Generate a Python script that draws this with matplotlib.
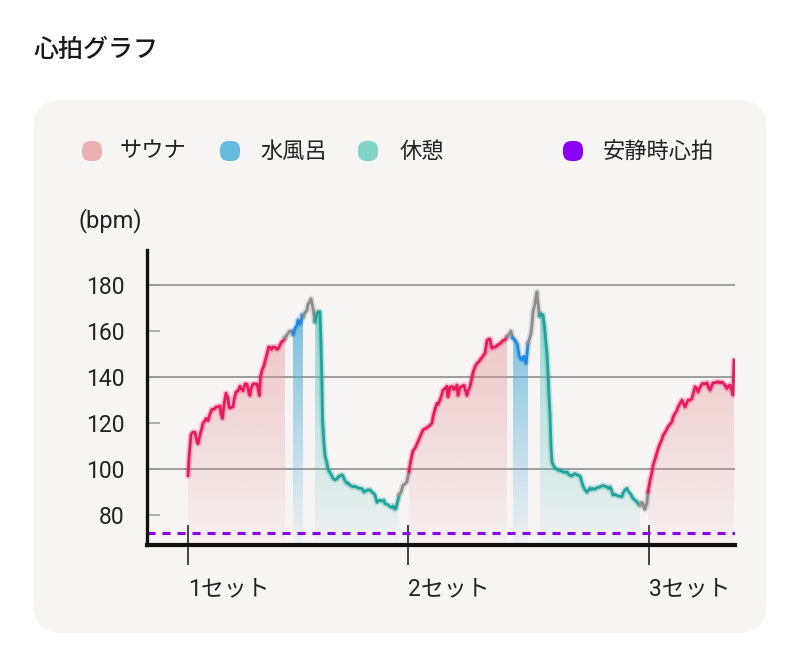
import numpy as np
import matplotlib
matplotlib.use("Agg")
import matplotlib.pyplot as plt
import matplotlib.colors as mcolors
import matplotlib.patheffects as pe
from matplotlib.patches import FancyBboxPatch
from matplotlib.transforms import IdentityTransform

plt.rcParams['font.family'] = ['Roboto', 'Noto Sans CJK JP', 'DejaVu Sans']
plt.rcParams['lines.scale_dashes'] = False

# ---------------- data (time in minutes, heart rate in bpm) ----------------
title = "心拍グラフ"
unit_label = "(bpm)"
legend_labels = ["サウナ", "水風呂", "休憩", "安静時心拍"]
set_labels = ["1セット", "2セット", "3セット"]
set_times = [0.0, 22.0, 46.1]
resting_hr = 72
yticks = [80, 100, 120, 140, 160, 180]
grid_values = [100, 140, 180]

sauna1_t = [0.0, 0.1, 0.3, 0.5, 0.7, 0.9, 1.0, 1.2, 1.4, 1.5, 1.7, 1.8, 2.0, 2.2, 2.4, 2.6, 2.8, 3.0, 3.2, 3.3,
            3.45, 3.6, 3.8, 4.0, 4.1, 4.2, 4.4, 4.5, 4.6, 4.8, 5.0, 5.2, 5.3, 5.5, 5.7, 5.9, 6.1, 6.2, 6.3, 6.5,
            6.7, 6.9, 7.05, 7.15, 7.25, 7.4, 7.6, 7.7, 7.9, 8.05, 8.2, 8.35, 8.5, 8.7, 8.9, 9.05, 9.2, 9.4, 9.6, 9.7]
sauna1_bpm = [97, 105, 115, 116, 116, 112, 111, 115, 118, 120, 121, 122, 121, 124, 126, 126, 127, 127, 127.5, 124,
              122, 128, 133, 131, 127, 126.5, 127, 127, 130, 133.5, 134, 136, 135, 134, 137, 137, 133, 132, 135, 137,
              137, 137, 134, 132, 140, 143, 145, 147, 150, 153, 153, 152, 153, 153, 152, 152.5, 154, 155.5, 156, 157]
trans1a_t = [9.7, 9.85, 10.0, 10.2, 10.4, 10.5]
trans1a_bpm = [157, 158, 159, 160, 160, 158.5]
water1_t = [10.5, 10.7, 10.9, 11.0, 11.2, 11.3, 11.4, 11.5]
water1_bpm = [158.5, 161, 162.6, 164.8, 163, 164, 167, 166]
trans1b_t = [11.5, 11.7, 11.9, 12.0, 12.2, 12.3, 12.4, 12.5, 12.6, 12.7]
trans1b_bpm = [166, 168, 169, 171.5, 173, 174, 172, 169.9, 167, 164]
rest1_t = [12.7, 12.9, 13.0, 13.2, 13.3, 13.4, 13.45, 13.6, 13.7, 13.9, 14.0, 14.2, 14.4, 14.5, 14.7, 14.9, 15.1,
           15.2, 15.4, 15.5, 15.7, 15.9, 16.0, 16.2, 16.4, 16.5, 16.7, 16.9, 17.2, 17.4, 17.6, 17.9, 18.0, 18.2,
           18.4, 18.6, 18.7, 18.9, 19.0, 19.2, 19.4, 19.6, 19.7, 19.9, 20.0, 20.2, 20.4, 20.5, 20.7, 20.8, 20.9,
           21.0, 21.1]
rest1_bpm = [164, 167.7, 168.4, 168.4, 155, 136, 122, 111, 106, 102.5, 100, 98.5, 97, 96, 95.3, 95.8, 97,
             97, 97.5, 97, 95, 93.8, 94, 93, 92.5, 92.3, 92.5, 92, 91.6, 91.5, 90, 90.9, 90.9, 91,
             90, 89.4, 88.7, 85.5, 86, 86.5, 86, 86.5, 85, 84.7, 84.5, 83.6, 83.3, 84, 82.5, 83, 85,
             86.5, 88.7]
trans2a_t = [21.1, 21.3, 21.5, 21.7, 21.9, 22.0, 22.1]
trans2a_bpm = [88.7, 90, 93, 93.5, 94.5, 97, 98.5]
sauna2_t = [22.1, 22.25, 22.4, 22.5, 22.7, 22.9, 23.0, 23.2, 23.4, 23.5, 23.7, 23.9, 24.0, 24.2, 24.4, 24.5, 24.7,
            24.9, 25.0, 25.2, 25.35, 25.5, 25.7, 25.9, 25.95, 26.0, 26.2, 26.4, 26.6, 26.9, 26.95, 27.0, 27.2,
            27.4, 27.6, 27.75, 27.9, 28.0, 28.2, 28.4, 28.5, 28.7, 28.9, 29.05, 29.2, 29.4, 29.55, 29.7, 29.8,
            29.9, 30.1, 30.2, 30.3, 30.4, 30.5, 30.7, 30.85, 31.0, 31.2, 31.4, 31.55, 31.7, 31.9]
sauna2_bpm = [99, 103, 106, 108, 109, 111, 112, 114, 116, 117, 117.5, 118, 118.4, 119, 120, 122.7, 126,
              128.6, 128, 130, 132, 134.3, 135, 136, 133, 131.4, 135.5, 136, 134.5, 136.5, 134, 132, 135.5,
              136, 136.5, 134, 132, 134, 135.8, 140, 142, 144.5, 146, 146.5, 147.4, 148.5, 149.5, 150.3, 153,
              156, 156.5, 156.5, 154, 152.5, 153, 153, 153.5, 154, 154.5, 155.4, 156, 156, 157.5]
trans2b_t = [31.9, 32.1, 32.3, 32.45]
trans2b_bpm = [157.5, 158.5, 160, 157]
water2_t = [32.45, 32.6, 32.7, 32.85, 32.95, 33.1, 33.25, 33.4, 33.5, 33.6, 33.7, 33.8, 33.9, 34.0]
water2_bpm = [157, 156.5, 156, 155, 154, 149.6, 148, 147.4, 148.5, 149, 147, 146, 150, 154.6]
trans2c_t = [34.0, 34.1, 34.3, 34.4, 34.5, 34.6, 34.7, 34.8, 34.9, 34.95, 35.05, 35.15]
trans2c_bpm = [154.6, 156, 159, 163, 168.4, 170, 172, 175, 177, 174, 170, 166.5]
rest2_t = [35.15, 35.3, 35.5, 35.65, 35.75, 35.9, 36.0, 36.1, 36.2, 36.3, 36.4, 36.5, 36.7, 36.9, 37.0, 37.2,
           37.4, 37.7, 37.9, 38.1, 38.4, 38.5, 38.7, 38.9, 39.2, 39.35, 39.5, 39.7, 39.9, 40.0, 40.2, 40.35,
           40.5, 40.7, 40.9, 41.1, 41.4, 41.55, 41.7, 41.9, 42.05, 42.2, 42.35, 42.5, 42.7, 42.9, 43.1, 43.4,
           43.5, 43.7, 43.9, 44.0, 44.2, 44.35, 44.5, 44.7, 44.9, 45.0, 45.2]
rest2_bpm = [166.5, 167.5, 167, 162, 157, 150, 142, 132, 124, 110, 103, 102, 100.5, 100, 99.5, 99.5,
             99, 98.5, 98.8, 97.5, 97, 97.5, 98, 97.5, 97, 95, 92.8, 91, 89.9, 90.5, 91.8, 91,
             91.6, 91.2, 92, 92, 92.8, 92.8, 92.5, 92.3, 91.5, 92.3, 91, 88.7, 89, 88.5, 88.2, 88,
             89.5, 91, 91.6, 90.5, 89.5, 88.5, 87.3, 86.5, 85.8, 85, 84.3]
trans2d_t = [45.2, 45.35, 45.5, 45.6, 45.7, 45.8, 45.9, 46.0]
trans2d_bpm = [84.3, 85.5, 85, 83, 82.4, 84, 85.5, 90]
sauna3_t = [46.0, 46.2, 46.4, 46.5, 46.7, 46.85, 47.0, 47.2, 47.4, 47.5, 47.7, 47.9, 48.0, 48.2, 48.4, 48.5,
            48.7, 48.9, 49.0, 49.2, 49.4, 49.5, 49.7, 49.9, 50.0, 50.2, 50.4, 50.5, 50.7, 50.9, 51.0, 51.2,
            51.4, 51.5, 51.7, 51.9, 52.0, 52.2, 52.4, 52.5, 52.7, 52.9, 53.0, 53.2, 53.4, 53.5, 53.7, 53.9,
            54.0, 54.2, 54.35, 54.5, 54.55, 54.6]
sauna3_bpm = [90, 95, 98.6, 101.5, 104.3, 106.5, 108.7, 111, 113, 114.5, 115.9, 117.5, 118.4, 119.5, 120.6, 122.5,
              124.2, 125.5, 127, 128.5, 130, 129, 127, 129, 130, 130, 130.7, 132.5, 135.8, 135, 133.5, 135.5,
              137, 137.2, 137, 137.5, 136, 134.3, 136.5, 137.5, 137.5, 137.8, 138, 137.5, 137.8, 137.5, 136.5, 135,
              136, 136.5, 134.5, 132.2, 140, 147.4]

segments = [
    ("sauna", sauna1_t, sauna1_bpm), ("trans", trans1a_t, trans1a_bpm),
    ("water", water1_t, water1_bpm), ("trans", trans1b_t, trans1b_bpm),
    ("rest", rest1_t, rest1_bpm), ("trans", trans2a_t, trans2a_bpm),
    ("sauna", sauna2_t, sauna2_bpm), ("trans", trans2b_t, trans2b_bpm),
    ("water", water2_t, water2_bpm), ("trans", trans2c_t, trans2c_bpm),
    ("rest", rest2_t, rest2_bpm), ("trans", trans2d_t, trans2d_bpm),
    ("sauna", sauna3_t, sauna3_bpm),
]

# ---------------- styles ----------------
line_colors = {"sauna": "#E8195C", "water": "#1E88E5", "rest": "#1FA39B", "trans": "#8C8C8C"}
fill_colors = {"sauna": "#E48F8F", "water": "#4FAED6", "rest": "#6CCBC0"}
fill_top_alpha = {"sauna": 0.55, "water": 0.85, "rest": 0.75}
legend_colors = ["#EBB1B1", "#65BBDB", "#83D5CB", "#8B00F5"]
card_color = "#F7F4F4"
YMIN, YMAX = 67, 195.2
XMIN, XMAX = -4.1, 54.7

W, H = 800, 665
fig = plt.figure(figsize=(W / 100, H / 100), dpi=100)
fig.patch.set_facecolor("white")

card = FancyBboxPatch((33, H - 633), 734, 533, boxstyle="round,pad=0,rounding_size=30",
                      transform=IdentityTransform(), facecolor=card_color, edgecolor="none", zorder=0)
fig.add_artist(card)

fig.text(33 / W, 1 - 50 / H, title, fontsize=18, fontweight="medium", color="#1a1a1a",
         ha="left", va="center", family=["Noto Sans CJK JP"])

# legend
legend_marker_x = [92, 230, 368, 573]
legend_text_x = [120, 260, 400, 603]
ly = H - 151
for mx, tx, lab, col in zip(legend_marker_x, legend_text_x, legend_labels, legend_colors):
    box = FancyBboxPatch((mx - 10, ly - 10), 20, 20, boxstyle="round,pad=0,rounding_size=8.5",
                         transform=IdentityTransform(), facecolor=col, edgecolor="none", zorder=2)
    fig.add_artist(box)
    fig.text(tx / W, ly / H, lab, fontsize=16, color="#222222", ha="left", va="center",
             family=["Noto Sans CJK JP"])

fig.text(78 / W, 1 - 221 / H, unit_label, fontsize=17, color="#222222", ha="left", va="center")

ax = fig.add_axes([147 / W, (H - 545) / H, 588 / W, 295 / H])
ax.set_facecolor("none")
ax.set_xlim(XMIN, XMAX)
ax.set_ylim(YMIN, YMAX)

for g in grid_values:
    ax.axhline(g, color="#8f8f8f", lw=1.2, zorder=1)

for phase, t, y in segments:
    t = np.asarray(t, float)
    y = np.asarray(y, float)
    if phase != "trans":
        poly = ax.fill_between(t, y, YMIN, facecolor="none", edgecolor="none")
        path = poly.get_paths()[0]
        rgb = mcolors.to_rgb(fill_colors[phase])
        n = 256
        img = np.zeros((n, 1, 4))
        img[..., :3] = rgb
        img[..., 3] = np.linspace(fill_top_alpha[phase], 0.04, n)[:, None]
        im = ax.imshow(img, extent=[t.min(), t.max(), YMIN, 182], origin="upper",
                       aspect="auto", interpolation="bilinear", zorder=2)
        im.set_clip_path(path, transform=ax.transData)
    c = line_colors[phase]
    ax.plot(t, y, color=c, lw=2.0, zorder=4, solid_joinstyle="round", solid_capstyle="round",
            path_effects=[pe.Stroke(linewidth=4.5, foreground=c, alpha=0.25), pe.Normal()])

ax.set_xlim(XMIN, XMAX)
ax.set_ylim(YMIN, YMAX)

ax.axhline(resting_hr, color="#8800EE", lw=2.2, dashes=(5.8, 5.0), zorder=5)

for s in ["top", "right"]:
    ax.spines[s].set_visible(False)
ax.spines["left"].set_linewidth(2.4)
ax.spines["bottom"].set_linewidth(3.0)
ax.spines["left"].set_color("#111111")
ax.spines["bottom"].set_color("#111111")
ax.spines["left"].set_zorder(6)
ax.spines["bottom"].set_zorder(6)

ax.set_yticks(yticks)
ax.set_yticklabels([str(v) for v in yticks])
ax.tick_params(axis="y", direction="in", length=9.5, width=1.1, color="#999999",
               labelsize=16.5, labelcolor="#222222", pad=16)
ax.set_xticks(set_times)
ax.set_xticklabels(set_labels)
ax.tick_params(axis="x", direction="inout", length=29, width=1.1, color="#111111",
               labelsize=16.5, labelcolor="#222222", pad=9)
for lab in ax.get_xticklabels():
    lab.set_horizontalalignment("left")

fig.savefig("out.png", dpi=100, facecolor="white")
